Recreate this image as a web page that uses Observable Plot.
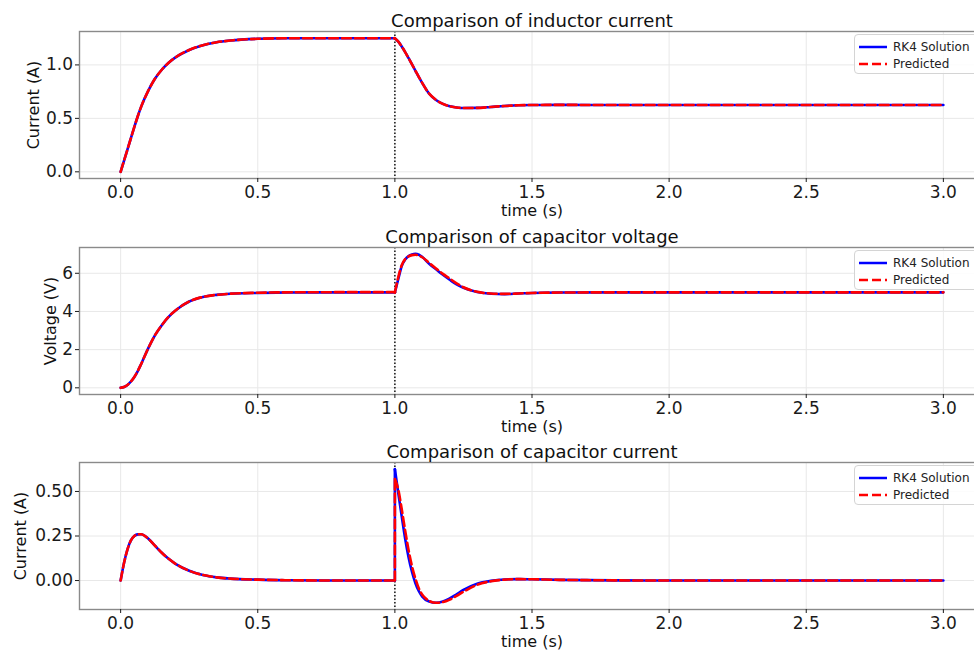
<!DOCTYPE html>
<html>
<head>
<meta charset="utf-8">
<script src="https://cdn.jsdelivr.net/npm/d3@7"></script>
<script src="https://cdn.jsdelivr.net/npm/@observablehq/plot@0.6"></script>
<style>
  body { margin: 0; background: #fff; }
  #chart { position: relative; width: 974px; height: 653px; overflow: hidden; background: #fff; font-family: "DejaVu Sans", sans-serif; }
  #chart svg.plot { position: absolute; left: 0; max-width: none !important; }
  .legend { position: absolute; left: 854px; width: 140px; height: 40px; border: 1px solid #d4d4d4; border-radius: 4px; background: rgba(255,255,255,0.85); box-sizing: border-box; }
  .legend .row { position: absolute; left: 0; height: 16px; }
  .legend .row svg { position: absolute; left: 3px; top: 6px; }
  .legend .row span { position: absolute; left: 38px; top: 0; font-size: 12px; line-height: 16px; color: #222; white-space: nowrap; }
</style>
</head>
<body>
<div id="chart"></div>
<script>
// ---------- data ----------
const tPre  = [0, 0.0125, 0.025, 0.0375, 0.05, 0.0625, 0.075, 0.1, 0.125, 0.15, 0.175, 0.2, 0.25, 0.3, 0.35, 0.4, 0.5, 0.6, 0.8, 1.0];
const tPost = [1.0, 1.0125, 1.025, 1.0375, 1.05, 1.0625, 1.075, 1.0875, 1.1, 1.125, 1.15, 1.175, 1.2, 1.225, 1.25, 1.3, 1.35, 1.4, 1.45, 1.5, 1.6, 1.8, 2.0, 2.5, 3.0];
const switchTime = [1.0];

// inductor current (A)
const iLPreRK4   = [0, 0.105, 0.21, 0.315, 0.42, 0.52, 0.61, 0.755, 0.87, 0.955, 1.02, 1.07, 1.14, 1.185, 1.212, 1.228, 1.244, 1.249, 1.25, 1.25];
const iLPostRK4  = [1.25, 1.218, 1.172, 1.12, 1.063, 1.005, 0.945, 0.885, 0.83, 0.73, 0.672, 0.635, 0.613, 0.602, 0.597, 0.598, 0.607, 0.616, 0.622, 0.625, 0.626, 0.625, 0.625, 0.625, 0.625];
const iLPrePred  = [0, 0.105, 0.21, 0.315, 0.42, 0.52, 0.61, 0.755, 0.87, 0.955, 1.02, 1.07, 1.14, 1.185, 1.212, 1.228, 1.244, 1.249, 1.25, 1.25];
const iLPostPred = [1.25, 1.218, 1.172, 1.12, 1.063, 1.005, 0.945, 0.886, 0.83, 0.731, 0.673, 0.636, 0.613, 0.602, 0.597, 0.598, 0.607, 0.616, 0.622, 0.625, 0.626, 0.625, 0.625, 0.625, 0.625];

// capacitor voltage (V)
const vPreRK4   = [0, 0.04, 0.15, 0.33, 0.57, 0.88, 1.25, 2.05, 2.75, 3.28, 3.72, 4.05, 4.52, 4.76, 4.87, 4.93, 4.97, 4.99, 5.0, 5.0];
const vPostRK4  = [5.0, 5.7, 6.38, 6.72, 6.9, 6.99, 7.02, 6.97, 6.85, 6.5, 6.21, 5.92, 5.66, 5.42, 5.24, 5.02, 4.93, 4.91, 4.94, 4.97, 4.99, 5.0, 5.0, 5.0, 5.0];
const vPrePred  = [0, 0.04, 0.15, 0.33, 0.57, 0.88, 1.25, 2.05, 2.75, 3.28, 3.72, 4.05, 4.52, 4.76, 4.87, 4.93, 4.98, 5.0, 5.01, 5.01];
const vPostPred = [5.0, 5.8, 6.42, 6.74, 6.88, 6.95, 6.97, 6.93, 6.84, 6.54, 6.25, 5.97, 5.72, 5.47, 5.27, 5.03, 4.94, 4.92, 4.94, 4.97, 4.99, 5.0, 5.0, 5.0, 5.0];

// capacitor current (A)
const iCPreRK4   = [0, 0.10, 0.175, 0.225, 0.25, 0.259, 0.26, 0.236, 0.196, 0.156, 0.122, 0.094, 0.055, 0.031, 0.018, 0.011, 0.005, 0.002, 0.0, 0.0];
const iCPostRK4  = [0.625, 0.49, 0.36, 0.235, 0.13, 0.048, -0.015, -0.06, -0.09, -0.118, -0.125, -0.118, -0.1, -0.077, -0.053, -0.018, -0.002, 0.006, 0.008, 0.007, 0.004, 0.001, 0.0, 0.0, 0.0];
const iCPrePred  = [0, 0.10, 0.175, 0.225, 0.25, 0.259, 0.26, 0.236, 0.196, 0.156, 0.122, 0.094, 0.055, 0.031, 0.018, 0.011, 0.005, 0.002, 0.0, 0.0];
const iCPostPred = [0.57, 0.51, 0.40, 0.28, 0.17, 0.08, 0.01, -0.045, -0.08, -0.114, -0.125, -0.121, -0.107, -0.086, -0.063, -0.024, -0.004, 0.005, 0.008, 0.007, 0.004, 0.001, 0.0, 0.0, 0.0];

// ticks & labels
const xTicks = [0, 0.5, 1.0, 1.5, 2.0, 2.5, 3.0];
const titles = ["Comparison of inductor current", "Comparison of capacitor voltage", "Comparison of capacitor current"];
const yLabels = ["Current (A)", "Voltage (V)", "Current (A)"];
const yTicks = [[0, 0.5, 1.0], [0, 2, 4, 6], [0, 0.25, 0.5]];
const yFormats = [".1f", ".0f", ".2f"];
const yDomains = [[-0.0625, 1.3125], [-0.35, 7.35], [-0.1625, 0.6625]];
const seriesNames = ["RK4 Solution", "Predicted"];
const xLabel = "time (s)";

// ---------- build ----------
function rows(tA, yA, tB, yB) {
  const out = [];
  tA.forEach((t, i) => out.push({t, v: yA[i], seg: "a"}));
  out.push({t: tA[tA.length - 1], v: yA[yA.length - 1], seg: "b"});
  out.push({t: tB[0], v: yB[0], seg: "b"});
  tB.forEach((t, i) => out.push({t, v: yB[i], seg: "c"}));
  return out;
}

const panels = [
  {rk4: rows(tPre, iLPreRK4, tPost, iLPostRK4), pred: rows(tPre, iLPrePred, tPost, iLPostPred), top: 0,   dx: -46},
  {rk4: rows(tPre, vPreRK4,  tPost, vPostRK4),  pred: rows(tPre, vPrePred,  tPost, vPostPred),  top: 216, dx: -29},
  {rk4: rows(tPre, iCPreRK4, tPost, iCPostRK4), pred: rows(tPre, iCPrePred, tPost, iCPostPred), top: 431, dx: -59}
];

const chart = document.getElementById("chart");
const MT = 31, PH = 147, MB = 45;

panels.forEach((p, k) => {
  const svg = Plot.plot({
    width: 984, height: MT + PH + MB,
    marginLeft: 79, marginRight: 0, marginTop: MT, marginBottom: MB,
    style: {background: "none", fontFamily: "DejaVu Sans, sans-serif", color: "#1a1a1a", overflow: "visible", maxWidth: "none"},
    x: {domain: [-0.15, 3.15]},
    y: {domain: yDomains[k]},
    marks: [
      Plot.gridX(xTicks, {stroke: "#e8e8e8", strokeOpacity: 1, strokeWidth: 1}),
      Plot.gridY(yTicks[k], {stroke: "#e8e8e8", strokeOpacity: 1, strokeWidth: 1}),
      Plot.ruleX(switchTime, {stroke: "#111", strokeWidth: 1.5, strokeDasharray: "1.5,2"}),
      Plot.line(p.rk4, {x: "t", y: "v", z: "seg", stroke: "blue", strokeWidth: 2.6, curve: "monotone-x"}),
      Plot.line(p.pred, {x: "t", y: "v", z: "seg", stroke: "red", strokeWidth: 2.6, strokeDasharray: "9,4", curve: "monotone-x"}),
      Plot.frame({stroke: "#8a8a8a", strokeWidth: 1.4}),
      Plot.axisX({ticks: xTicks, tickFormat: d3.format(".1f"), tickSize: 4, tickPadding: 3, fontSize: 17, label: null}),
      Plot.axisY({ticks: yTicks[k], tickFormat: d3.format(yFormats[k]), tickSize: 4, tickPadding: 2.5, fontSize: 17, label: null}),
      Plot.text([titles[k]], {frameAnchor: "top", dy: -10, fontSize: 18, fill: "#111", lineAnchor: "middle", textAnchor: "middle"}),
      Plot.text([xLabel], {frameAnchor: "bottom", dy: 32.5, fontSize: 16, fill: "#111", lineAnchor: "middle", textAnchor: "middle"}),
      Plot.text([yLabels[k]], {frameAnchor: "left", dx: p.dx, rotate: -90, fontSize: 16, fill: "#111", lineAnchor: "middle", textAnchor: "middle"})
    ]
  });
  svg.classList.add("plot");
  svg.style.top = p.top + "px";
  chart.appendChild(svg);

  // legend
  const axTop = p.top + MT;
  const lg = document.createElement("div");
  lg.className = "legend";
  lg.style.top = (axTop + 3) + "px";
  const styles = [
    {stroke: "blue", dash: null},
    {stroke: "red", dash: "9,4"}
  ];
  seriesNames.forEach((name, j) => {
    const row = document.createElement("div");
    row.className = "row";
    row.style.top = (4 + j * 17) + "px";
    row.innerHTML =
      `<svg width="30" height="4"><line x1="1" x2="29" y1="2" y2="2" stroke="${styles[j].stroke}" stroke-width="2.5"${styles[j].dash ? ` stroke-dasharray="${styles[j].dash}"` : ""}/></svg><span>${name}</span>`;
    lg.appendChild(row);
  });
  chart.appendChild(lg);
});
</script>
</body>
</html>
